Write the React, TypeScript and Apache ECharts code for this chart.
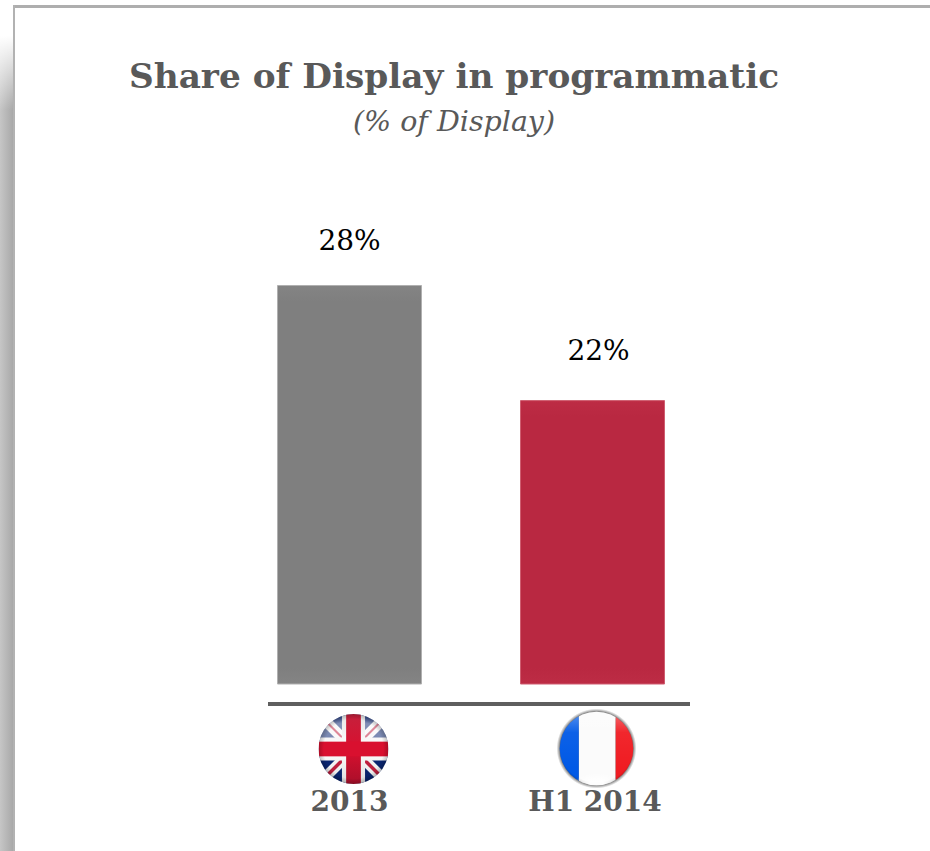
import React, { useEffect, useRef } from "react";
import * as echarts from "echarts";

const periods = ["2013", "H1 2014"];
const shares = [28, 22];
const barColors = ["#7f7f7f", "#b92841"];
const bevelColors = ["#848484", "#bd2c45"];
const edgeColors = ["#b0b0b0", "#cf5d70"];
const titleText = "Share of Display in programmatic";
const subtitleText = "(% of Display)";

const SERIF = "'DejaVu Serif', 'Liberation Serif', serif";

const unionJack = `<svg xmlns="http://www.w3.org/2000/svg" viewBox="0 0 100 100">
<defs><clipPath id="c"><circle cx="50" cy="50" r="50"/></clipPath>
<linearGradient id="g" x1="0" y1="0" x2="0" y2="1"><stop offset="0" stop-color="#fff" stop-opacity=".05"/><stop offset=".14" stop-color="#fff" stop-opacity=".5"/><stop offset=".48" stop-color="#fff" stop-opacity=".45"/><stop offset=".5" stop-color="#fff" stop-opacity="0"/><stop offset="1" stop-color="#000" stop-opacity=".1"/></linearGradient>
<linearGradient id="w" x1="0" y1="0" x2="0" y2="1"><stop offset="0" stop-color="#e6e6e6"/><stop offset=".5" stop-color="#fff"/><stop offset="1" stop-color="#dcdcdc"/></linearGradient>
<linearGradient id="r" x1="0" y1="0" x2="0" y2="1"><stop offset="0" stop-color="#c5203c"/><stop offset=".5" stop-color="#d9102f"/><stop offset="1" stop-color="#a90f2a"/></linearGradient>
<radialGradient id="e" cx=".5" cy=".5" r=".5"><stop offset=".85" stop-color="#000" stop-opacity="0"/><stop offset="1" stop-color="#000" stop-opacity=".22"/></radialGradient></defs>
<g clip-path="url(#c)"><rect width="100" height="100" fill="#04206e"/>
<path d="M0 0L100 100M100 0L0 100" stroke="#f6f6f6" stroke-width="15"/>
<path d="M0 100L50 50M100 100L50 50" stroke="#c01a3a" stroke-width="5"/>
<path d="M8 8L50 50M92 8L50 50" stroke="#c01a3a" stroke-width="3"/>
<rect width="100" height="100" fill="url(#g)"/>
<path d="M50 0V100M0 50H100" stroke="url(#w)" stroke-width="33"/>
<rect x="39.5" width="21" height="100" fill="url(#r)"/><rect y="39.5" width="100" height="21" fill="#d9102f"/>
<rect width="100" height="100" fill="url(#e)"/></g></svg>`;

const tricolore = `<svg xmlns="http://www.w3.org/2000/svg" viewBox="0 0 100 100">
<defs><clipPath id="c"><circle cx="50" cy="50" r="46"/></clipPath>
<radialGradient id="s" cx=".5" cy=".5" r=".5"><stop offset=".88" stop-color="#333"/><stop offset="1" stop-color="#666" stop-opacity="0"/></radialGradient>
<linearGradient id="g" x1="0" y1="0" x2="0" y2="1"><stop offset="0" stop-color="#fff" stop-opacity=".4"/><stop offset=".3" stop-color="#fff" stop-opacity=".05"/><stop offset=".75" stop-color="#fff" stop-opacity="0"/></linearGradient>
<radialGradient id="b" cx=".5" cy=".5" r=".5"><stop offset=".35" stop-color="#fff" stop-opacity=".95"/><stop offset="1" stop-color="#fff" stop-opacity="0"/></radialGradient>
<radialGradient id="e" cx=".5" cy=".45" r=".55"><stop offset=".85" stop-color="#000" stop-opacity="0"/><stop offset="1" stop-color="#000" stop-opacity=".3"/></radialGradient></defs>
<circle cx="50" cy="50" r="50" fill="url(#s)"/>
<g clip-path="url(#c)"><rect width="28" height="100" fill="#0059e6"/><rect x="28" width="46" height="100" fill="#fbfbfb"/><rect x="74" width="26" height="100" fill="#f01c22"/>
<rect width="100" height="100" fill="url(#g)"/><rect width="100" height="100" fill="url(#e)"/>
<ellipse cx="50" cy="95" rx="28" ry="15" fill="url(#b)"/></g></svg>`;

const asDataUri = (svg: string) => "data:image/svg+xml;charset=utf-8," + encodeURIComponent(svg);

export default function App() {
  const ref = useRef<HTMLDivElement>(null);

  useEffect(() => {
    document.body.style.margin = "0";
    document.body.style.background = "#fff";
    const chart = echarts.init(ref.current!, undefined, { renderer: "svg" });
    const gridTop = 285;
    const gridHeight = 399;
    const valueMin = 7.2;
    const valueMax = 28;
    const pxPerUnit = gridHeight / (valueMax - valueMin);

    chart.setOption({
      animation: false,
      backgroundColor: "#ffffff",
      title: [
        {
          text: titleText,
          left: 449,
          top: 54,
          textAlign: "center",
          textStyle: { fontFamily: SERIF, fontWeight: "bold", fontSize: 34.3, color: "#595959" },
        },
        {
          text: subtitleText,
          left: 449,
          top: 102,
          textAlign: "center",
          textStyle: { fontFamily: SERIF, fontStyle: "italic", fontWeight: "normal", fontSize: 28.5, color: "#595959" },
        },
      ],
      grid: { left: 228, top: gridTop, width: 486, height: gridHeight },
      xAxis: {
        type: "category",
        data: periods.map((value, i) => ({
          value,
          textStyle: i === 1 ? { padding: [0, 0, 0, 5] } : {},
        })),
        axisLine: { show: false },
        axisTick: { show: false },
        axisLabel: {
          margin: 103,
          fontFamily: SERIF,
          fontWeight: "bold",
          fontSize: 28,
          color: "#595959",
        },
      },
      // The scale starts above zero, so both bars keep their stated values at the drawn heights.
      yAxis: { type: "value", min: valueMin, max: valueMax, show: false },
      series: [
        {
          type: "bar",
          barWidth: 145,
          data: shares.map((value, i) => {
            const height = (value - valueMin) * pxPerUnit;
            const band = 16 / height;
            return {
              value,
              itemStyle: {
                borderColor: edgeColors[i],
                borderWidth: 1,
                color: {
                  type: "linear",
                  x: 0, y: 0, x2: 0, y2: 1,
                  colorStops: [
                    { offset: 0, color: bevelColors[i] },
                    { offset: band, color: barColors[i] },
                    { offset: 1 - band, color: barColors[i] },
                    { offset: 1, color: bevelColors[i] },
                  ],
                },
              },
              label: {
                show: true,
                position: "top",
                distance: 29,
                offset: i === 1 ? [6, -7] : [0, -2],
                formatter: "{c}%",
                fontFamily: SERIF,
                fontSize: 28,
                color: "#000000",
              },
            };
          }),
        },
      ],
      graphic: [
        // Card shadow down the left edge.
        {
          type: "rect",
          z: -2,
          shape: { x: 0, y: 36, width: 14, height: 815 },
          style: {
            fill: {
              type: "linear", x: 0, y: 0, x2: 1, y2: 0,
              colorStops: [
                { offset: 0, color: "#c6c6c6" },
                { offset: 1, color: "#a6a6a6" },
              ],
            },
          },
        },
        // White wash that fades the shadow out towards the top.
        {
          type: "rect",
          z: -1,
          shape: { x: 0, y: 36, width: 14, height: 74 },
          style: {
            fill: {
              type: "linear", x: 0, y: 0, x2: 0, y2: 1,
              colorStops: [
                { offset: 0, color: "rgba(255,255,255,1)" },
                { offset: 1, color: "rgba(255,255,255,0)" },
              ],
            },
          },
        },
        // Card frame.
        { type: "rect", shape: { x: 13, y: 5, width: 917, height: 3 }, style: { fill: "#aeaeae" } },
        { type: "rect", shape: { x: 13, y: 5, width: 2, height: 846 }, style: { fill: "#b2b2b2" } },
        // Baseline under the bars.
        {
          type: "line",
          shape: { x1: 268, y1: 704, x2: 690, y2: 704 },
          style: { stroke: "#5f5f5f", lineWidth: 4 },
        },
        // Country flags.
        { type: "image", style: { image: asDataUri(unionJack), x: 318.5, y: 714, width: 70, height: 70 } },
        { type: "image", style: { image: asDataUri(tricolore), x: 556.5, y: 708.5, width: 80, height: 80 } },
      ],
    });

    return () => chart.dispose();
  }, []);

  return <div ref={ref} style={{ width: 930, height: 851 }} />;
}
